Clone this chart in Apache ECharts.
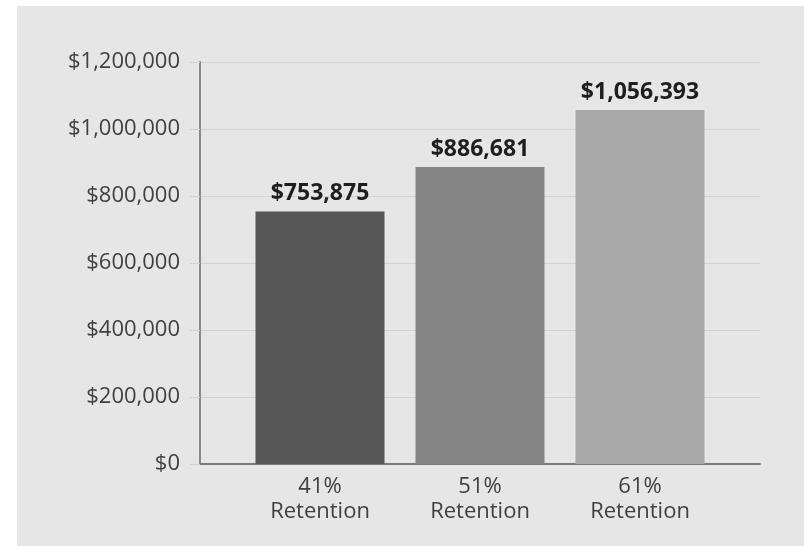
<!DOCTYPE html>
<html>
<head>
<meta charset="utf-8">
<script src="https://cdn.jsdelivr.net/npm/echarts@6/dist/echarts.min.js"></script>
<style>
html,body{margin:0;padding:0;background:#ffffff;}
#panel{position:absolute;left:17px;top:6px;right:0;bottom:0;background:#e6e6e6;}
#chart{position:absolute;left:0;top:0;width:804px;height:546px;}
</style>
</head>
<body>
<div id="panel"></div>
<div id="chart"></div>
<script>
const categories = ['41%\nRetention', '51%\nRetention', '61%\nRetention'];
const values = [753875, 886681, 1056393];
const barColors = ['#575757', '#858585', '#a8a8a8'];
const yTicks = { min: 0, max: 1200000, interval: 200000 };

const offset = 0.75;
const fmtMoney = v => '$' + Math.round(v).toLocaleString('en-US');

const chart = echarts.init(document.getElementById('chart'), null, { renderer: 'canvas' });
chart.setOption({
  animation: false,
  backgroundColor: 'transparent',
  grid: { left: 200, right: 44, top: 62, bottom: 82, containLabel: false },
  xAxis: {
    type: 'value',
    min: 0,
    max: categories.length + 0.5,
    splitLine: { show: false },
    axisLine: { show: true, lineStyle: { color: '#7a7a7a', width: 2 } },
    axisTick: { show: false },
    axisLabel: {
      customValues: categories.map((c, i) => i + offset),
      formatter: v => categories[Math.round(v - offset)] || '',
      color: '#404040',
      fontFamily: 'Open Sans',
      fontSize: 22,
      lineHeight: 25,
      margin: 10
    }
  },
  yAxis: {
    type: 'value',
    min: yTicks.min,
    max: yTicks.max,
    interval: yTicks.interval,
    axisLine: { show: true, lineStyle: { color: '#8a8a8a', width: 2 } },
    axisTick: { show: true, length: 10, lineStyle: { color: '#d2d2d2', width: 1 } },
    splitLine: { show: true, lineStyle: { color: '#d2d2d2', width: 1 } },
    axisLabel: {
      formatter: fmtMoney,
      color: '#404040',
      fontFamily: 'Open Sans',
      fontSize: 22,
      margin: 20
    }
  },
  series: [{
    type: 'bar',
    barWidth: 129,
    data: values.map((v, i) => ({ value: [i + offset, v], itemStyle: { color: barColors[i] } })),
    label: {
      show: true,
      position: 'top',
      distance: 6,
      formatter: p => fmtMoney(p.value[1]),
      color: '#1e1e1e',
      fontFamily: 'Open Sans',
      fontWeight: 'bold',
      fontSize: 23
    }
  }]
});
</script>
</body>
</html>
